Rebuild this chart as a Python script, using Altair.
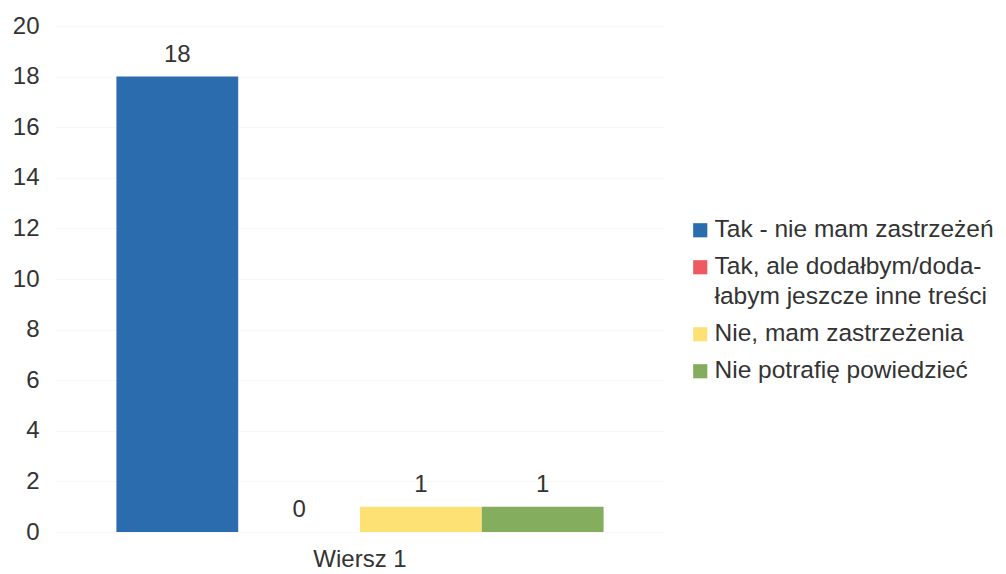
import altair as alt
import pandas as pd

categories = ["Tak - nie mam zastrzeżeń",
              "Tak, ale dodałbym/dodałabym jeszcze inne treści",
              "Nie, mam zastrzeżenia",
              "Nie potrafię powiedzieć"]
values = [18, 0, 1, 1]
group = ["Wiersz 1"] * 4
colors = ["#2b6cae", "#ee5962", "#fde174", "#84ad5d"]

df = pd.DataFrame({"group": group, "series": categories, "value": values})

font = "Liberation Sans"
txt = "#333333"
fs = 24

base = alt.Chart(df).encode(
    x=alt.X("group:N", title=None,
            scale=alt.Scale(paddingInner=0, paddingOuter=0.124),
            axis=alt.Axis(labelAngle=0, domain=False, ticks=False, labelFontSize=fs,
                          labelColor=txt, labelFont=font, labelPadding=15)),
    xOffset=alt.XOffset("series:N", sort=categories,
                        scale=alt.Scale(paddingInner=0, paddingOuter=0)),
)

bars = base.mark_bar().encode(
    y=alt.Y("value:Q", title=None,
            scale=alt.Scale(domain=[0, 20]),
            axis=alt.Axis(values=list(range(0, 21, 2)), domain=False, ticks=False,
                          labelFontSize=fs, labelColor=txt, labelFont=font,
                          labelPadding=17, grid=True, gridColor="#f8f8f8")),
    color=alt.Color("series:N", sort=categories,
                    scale=alt.Scale(domain=categories, range=colors),
                    legend=alt.Legend(title=None, orient="none", legendX=632, legendY=192,
                                      symbolType="square", symbolSize=200,
                                      symbolStrokeWidth=0, labelFontSize=24.5, labelFont=font,
                                      labelColor=txt, labelLimit=400, rowPadding=12,
                                      labelOffset=2, padding=0,
                                      labelExpr="datum.label == 'Tak, ale dodałbym/dodałabym jeszcze inne treści' ? ['Tak, ale dodałbym/doda-', 'łabym jeszcze inne treści'] : datum.label")),
)

labels = base.mark_text(dy=-22, fontSize=fs, font=font, color=txt).encode(
    y=alt.Y("value:Q"),
    text=alt.Text("value:Q"),
)

chart = (bars + labels).properties(
    width=608, height=506,
    padding={"left": 4, "top": 6, "right": 0, "bottom": 0},
).configure(
    style={"guide-label": {"lineHeight": 30}},
    view=alt.ViewConfig(strokeWidth=0),
)

chart.save("out.html", embed_options={"renderer": "svg", "actions": False})
